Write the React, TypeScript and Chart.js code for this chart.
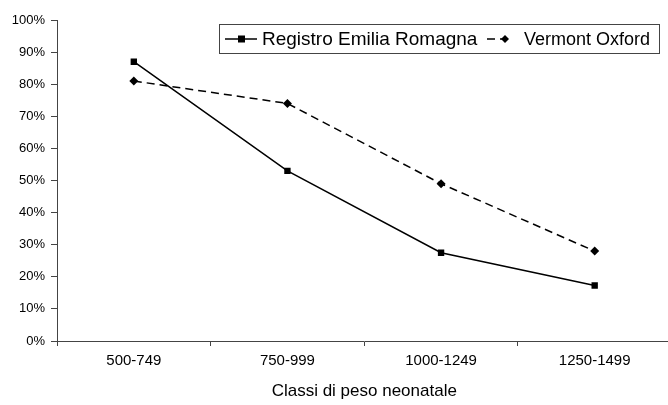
import React, { useEffect, useRef } from "react";
import { Chart, registerables } from "chart.js";

Chart.register(...registerables);

const categories = ["500-749", "750-999", "1000-1249", "1250-1499"];
const registroValues = [87, 53, 27.5, 17.3];
const vermontValues = [81, 74, 49, 28];
const seriesNames = ["Registro Emilia Romagna", "Vermont Oxford"];
const xTitle = "Classi di peso neonatale";

const FONT = "'Liberation Sans', Arial, sans-serif";

const legendBoxPlugin = {
  id: "legendBox",
  afterDraw(chart: any) {
    const ctx = chart.ctx;
    ctx.save();
    const x0 = 219, y0 = 24, x1 = 659, y1 = 53;
    ctx.fillStyle = "#fff";
    ctx.fillRect(x0, y0, x1 - x0, y1 - y0);
    ctx.strokeStyle = "#444";
    ctx.lineWidth = 1;
    ctx.strokeRect(x0 + 0.5, y0 + 0.5, x1 - x0, y1 - y0);
    const cy = 39;
    ctx.strokeStyle = "#000";
    // series 1 sample
    ctx.beginPath();
    ctx.setLineDash([]);
    ctx.lineWidth = 1.5;
    ctx.moveTo(225, cy);
    ctx.lineTo(257, cy);
    ctx.stroke();
    ctx.fillStyle = "#000";
    ctx.fillRect(238, cy - 3.5, 7, 7);
    ctx.font = "19px " + FONT;
    ctx.textBaseline = "middle";
    ctx.textAlign = "left";
    ctx.fillText(seriesNames[0], 262, cy + 1);
    // series 2 sample
    ctx.beginPath();
    ctx.setLineDash([8, 5]);
    ctx.moveTo(487, cy);
    ctx.lineTo(513, cy);
    ctx.stroke();
    ctx.setLineDash([]);
    ctx.beginPath();
    ctx.moveTo(505, cy - 4);
    ctx.lineTo(509, cy);
    ctx.lineTo(505, cy + 4);
    ctx.lineTo(501, cy);
    ctx.closePath();
    ctx.fill();
    ctx.font = "18px " + FONT;
    ctx.fillText(seriesNames[1], 524, cy + 1);
    ctx.restore();
  },
};

export default function App() {
  const ref = useRef<HTMLCanvasElement>(null);
  useEffect(() => {
    const chart = new Chart(ref.current!, {
      type: "line",
      data: {
        labels: categories,
        datasets: [
          {
            label: seriesNames[0],
            data: registroValues,
            borderColor: "#000",
            backgroundColor: "#000",
            borderWidth: 1.5,
            pointStyle: "rect",
            pointRadius: 4.5,
            pointBorderWidth: 0,
            tension: 0,
          },
          {
            label: seriesNames[1],
            data: vermontValues,
            borderColor: "#000",
            backgroundColor: "#000",
            borderWidth: 1.5,
            borderDash: [8, 5],
            pointStyle: "rectRot",
            pointRadius: 4.5,
            pointBorderWidth: 0,
            tension: 0,
          },
        ],
      },
      options: {
        animation: false,
        responsive: false,
        layout: { padding: { top: 20, right: 0, left: 0, bottom: 0 } },
        plugins: { legend: { display: false }, tooltip: { enabled: false } },
        scales: {
          x: {
            type: "category",
            offset: true,
            grid: {
              offset: true,
              drawOnChartArea: false,
              drawTicks: true,
              tickLength: 5,
              color: "#444",
            },
            border: { color: "#444", width: 1 },
            ticks: {
              color: "#000",
              font: { size: 15, family: FONT },
              padding: 6,
              maxRotation: 0,
            },
            title: {
              display: true,
              text: xTitle,
              color: "#000",
              font: { size: 17, family: FONT },
              padding: { top: 4, bottom: 3 },
            },
            afterFit(scale: any) {
              scale.height = 64;
            },
          },
          y: {
            min: 0,
            max: 100,
            grid: {
              drawOnChartArea: false,
              drawTicks: true,
              tickLength: 6,
              color: "#444",
            },
            border: { color: "#444", width: 1 },
            ticks: {
              stepSize: 10,
              color: "#000",
              font: { size: 13, family: FONT },
              padding: 6,
              callback: (v: any) => v + "%",
            },
            afterFit(scale: any) {
              scale.width = 57;
            },
          },
        },
      },
      plugins: [legendBoxPlugin],
    } as any);
    return () => chart.destroy();
  }, []);
  return (
    <div style={{ position: "fixed", left: 0, top: 0, width: 668, height: 405, overflow: "hidden", background: "#fff" }}>
      <canvas ref={ref} width={676} height={405} style={{ width: 676, height: 405, display: "block" }} />
    </div>
  );
}
